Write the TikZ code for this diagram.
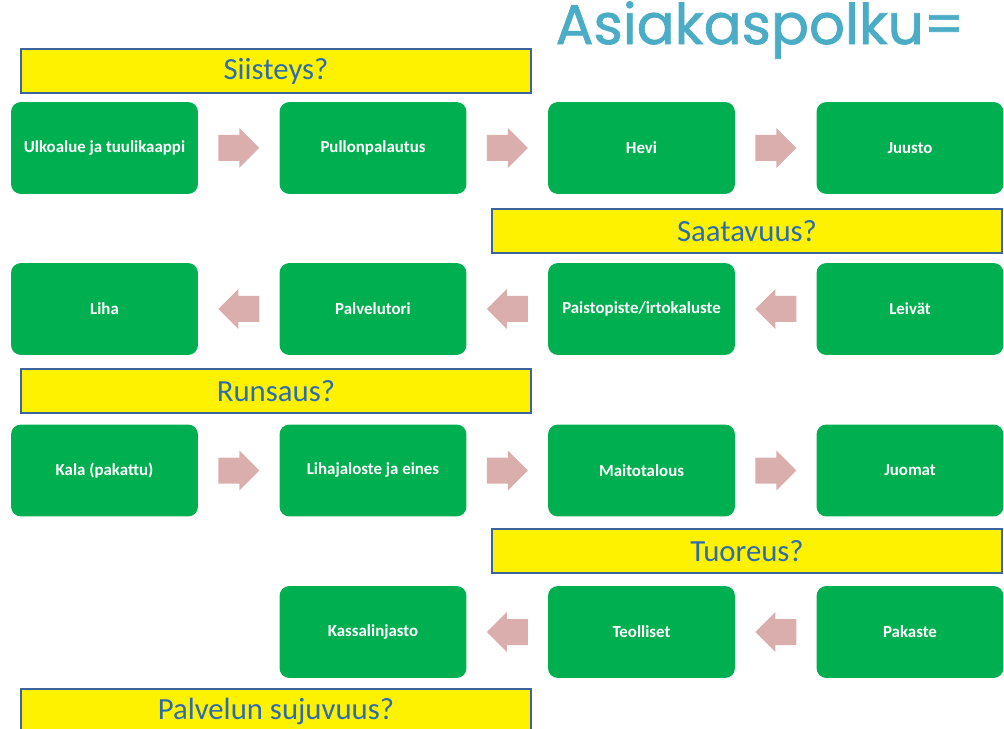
\documentclass[tikz,border=0pt]{standalone}
\usepackage{fontspec}
\setmainfont{Carlito}
\newfontfamily\titlefont[FakeBold=1.2]{Poppins}
\usetikzlibrary{calc}
\definecolor{boxgreen}{RGB}{0,176,80}
\definecolor{bannertext}{RGB}{46,108,176}
\definecolor{bannerline}{RGB}{60,100,160}
\definecolor{arrowpink}{RGB}{219,174,174}
\definecolor{titleblue}{RGB}{75,172,198}
\tikzset{
  stop/.style={fill=boxgreen, rounded corners=0.2cm, minimum width=3.74cm, minimum height=1.84cm,
    inner sep=0pt, text=white, font=\bfseries\fontsize{9.6}{11}\selectfont},
  banner/.style={fill=yellow, draw=bannerline, line width=0.8pt, minimum width=10.2cm, minimum height=0.88cm,
    inner sep=0pt, text=bannertext, font=\fontsize{17.5}{20}\selectfont},
  heading/.style={font=\titlefont\fontsize{32}{38}\selectfont, text=titleblue}
}
% block arrows between two stops
\newcommand{\goright}[2]{\fill[arrowpink] ($(#1.east)!0.5!(#2.west)$) ++(-20.5,-13) -- ++(21,0) -- ++(0,-7) -- ++(20,20) -- ++(-20,20) -- ++(0,-7) -- ++(-21,0) -- cycle;}
\newcommand{\goleft}[2]{\fill[arrowpink] ($(#1.west)!0.5!(#2.east)$) ++(20.5,-13) -- ++(-21,0) -- ++(0,-7) -- ++(-20,20) -- ++(20,20) -- ++(0,-7) -- ++(21,0) -- cycle;}
\begin{document}
\begin{tikzpicture}[x=0.02cm, y=-0.02cm]
	\useasboundingbox (0,0) rectangle (1004,729);
	% otsikko
	\node[heading] (title) at (760,30) {Asiakaspolku=};
	% kysymykset
	\node[banner] (q1) at (276,71) {Siisteys?};
	\node[banner] (q2) at (747,231) {Saatavuus?};
	\node[banner] (q3) at (276,391) {Runsaus?};
	\node[banner] (q4) at (747,551) {Tuoreus?};
	\node[banner] (q5) at (276,711) {Palvelun sujuvuus?};
	% rivi 1
	\node[stop] (ulko) at (104.5,148) {Ulkoalue ja tuulikaappi};
	\node[stop] (pullo) at (373,148) {Pullonpalautus};
	\node[stop] (hevi) at (641.5,148) {Hevi};
	\node[stop] (juusto) at (910,148) {Juusto};
	% rivi 2
	\node[stop] (leivat) at (910,309) {Leivät};
	\node[stop] (paisto) at (641.5,309) {Paistopiste/irtokaluste};
	\node[stop] (tori) at (373,309) {Palvelutori};
	\node[stop] (liha) at (104.5,309) {Liha};
	% rivi 3
	\node[stop] (kala) at (104.5,470.5) {Kala (pakattu)};
	\node[stop] (eines) at (373,470.5) {Lihajaloste ja eines};
	\node[stop] (maito) at (641.5,470.5) {Maitotalous};
	\node[stop] (juomat) at (910,470.5) {Juomat};
	% rivi 4
	\node[stop] (pakaste) at (910,632) {Pakaste};
	\node[stop] (teoll) at (641.5,632) {Teolliset};
	\node[stop] (kassa) at (373,632) {Kassalinjasto};
	% nuolet
	\goright{ulko}{pullo} \goright{pullo}{hevi} \goright{hevi}{juusto}
	\goleft{leivat}{paisto} \goleft{paisto}{tori} \goleft{tori}{liha}
	\goright{kala}{eines} \goright{eines}{maito} \goright{maito}{juomat}
	\goleft{pakaste}{teoll} \goleft{teoll}{kassa}
\end{tikzpicture}
\end{document}
